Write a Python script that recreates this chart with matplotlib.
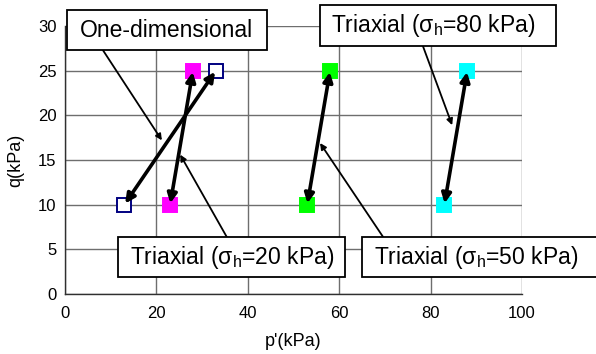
import matplotlib
matplotlib.use("Agg")
import matplotlib.pyplot as plt
from matplotlib.patches import Rectangle

plt.rcParams['font.family'] = ['Liberation Sans', 'DejaVu Sans']

# stress paths: start (p', q) -> end (p', q)
series_names = ["One-dimensional", "Triaxial 20", "Triaxial 50", "Triaxial 80"]
p_start = [13, 23, 53, 83]
q_start = [10, 10, 10, 10]
p_end = [33, 28, 58, 88]
q_end = [25, 25, 25, 25]
face_colors = ["white", "#FF00FF", "#00FF00", "#00FFFF"]
edge_colors = ["#000080", "#FF00FF", "#00FF00", "#00FFFF"]

x_ticks = [0, 20, 40, 60, 80, 100]
y_ticks = [0, 5, 10, 15, 20, 25, 30]

# label boxes: text, text centre, box (x0, x1, y0, y1), pointer start, pointer tip
labels = [
    ("One-dimensional", (22.2, 29.55), (0.4, 44.2, 27.3, 31.8), (8.3, 27.3), (21.2, 17.2)),
    ("Triaxial (σ$_\\mathregular{h}$=80 kPa)", (80.5, 30.06), (55.8, 107.4, 27.76, 32.35), (78.3, 27.76), (84.7, 18.9)),
    ("Triaxial (σ$_\\mathregular{h}$=20 kPa)", (36.6, 4.14), (11.6, 61.3, 1.9, 6.38), (35.4, 6.38), (25.2, 15.6)),
    ("Triaxial (σ$_\\mathregular{h}$=50 kPa)", (89.9, 4.14), (65.0, 130.0, 1.9, 6.38), (69.6, 6.38), (55.8, 16.9)),
]

fig = plt.figure(figsize=(5.96, 3.54), dpi=100)
ax = fig.add_axes([0.109, 0.1695, 0.767, 0.757])

ax.set_xlim(0, 100)
ax.set_ylim(0, 30)
ax.set_xticks(x_ticks)
ax.set_yticks(y_ticks)
ax.grid(True, color="#6e6e6e", lw=1.0)
ax.set_axisbelow(True)
for s in ["top", "right"]:
    ax.spines[s].set_visible(False)
for s in ["left", "bottom"]:
    ax.spines[s].set_color("#303030")
    ax.spines[s].set_linewidth(1.0)
ax.tick_params(length=0, labelsize=12)
ax.tick_params(axis="x", pad=9)
ax.tick_params(axis="y", pad=6)
ax.set_xlabel("p'(kPa)", fontsize=13, labelpad=8)
ax.set_ylabel("q(kPa)", fontsize=13, labelpad=10)

for i in range(len(series_names)):
    ax.plot([p_start[i], p_end[i]], [q_start[i], q_end[i]], ls="none", marker="s",
            ms=10, mfc=face_colors[i], mec=edge_colors[i], mew=1.4, zorder=3)
    ax.annotate("", xy=(p_end[i], q_end[i]), xytext=(p_start[i], q_start[i]),
                arrowprops=dict(arrowstyle="<|-|>", color="black", lw=2.6,
                                mutation_scale=14, shrinkA=1, shrinkB=1), zorder=4)

for text, (tx, ty), (bx0, bx1, by0, by1), start, tip in labels:
    ax.annotate("", xy=tip, xytext=start,
                arrowprops=dict(arrowstyle="-|>", color="black", lw=1.3,
                                mutation_scale=9, shrinkA=0, shrinkB=0), zorder=4)
    ax.add_patch(Rectangle((bx0, by0), bx1 - bx0, by1 - by0, facecolor="white",
                           edgecolor="black", lw=1.3, clip_on=False, zorder=5))
    ax.text(tx, ty, text, ha="center", va="center", fontsize=16.5, zorder=6)

fig.savefig("out.png", dpi=100)
